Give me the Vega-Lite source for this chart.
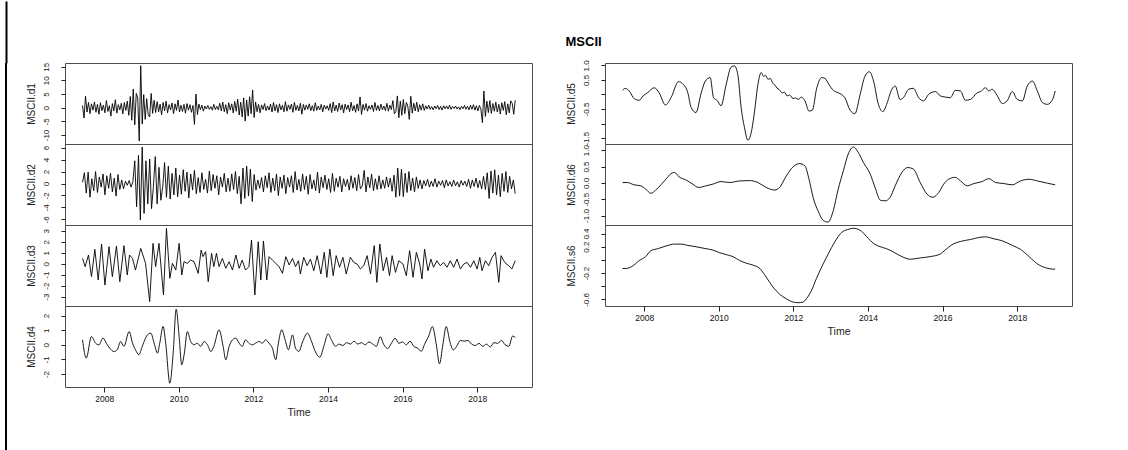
{
"$schema": "https://vega.github.io/schema/vega-lite/v6.json",
"padding": {"left": 3, "top": 0, "right": 5, "bottom": 0},
"background": "white",
"datasets": {
"d1": [{"t":2007.42,"v":0.8},{"t":2007.46,"v":-3.8},{"t":2007.50,"v":4.2},{"t":2007.54,"v":-1.6},{"t":2007.58,"v":1.9},{"t":2007.62,"v":-2.2},{"t":2007.66,"v":1.4},{"t":2007.70,"v":-0.9},{"t":2007.74,"v":2.1},{"t":2007.78,"v":-1.7},
{"t":2007.82,"v":1.2},{"t":2007.86,"v":-2.4},{"t":2007.90,"v":1.8},{"t":2007.94,"v":-1.1},{"t":2007.98,"v":0.9},{"t":2008.02,"v":-1.9},{"t":2008.06,"v":2.6},{"t":2008.10,"v":-1.4},{"t":2008.14,"v":0.7},{"t":2008.18,"v":-3.1},
{"t":2008.22,"v":1.5},{"t":2008.26,"v":-1.2},{"t":2008.30,"v":2.9},{"t":2008.34,"v":-2.0},{"t":2008.38,"v":1.1},{"t":2008.42,"v":-0.8},{"t":2008.46,"v":1.6},{"t":2008.50,"v":-2.3},{"t":2008.54,"v":1.9},{"t":2008.58,"v":-1.0},
{"t":2008.62,"v":2.4},{"t":2008.66,"v":-2.8},{"t":2008.70,"v":4.1},{"t":2008.74,"v":-4.6},{"t":2008.78,"v":6.8},{"t":2008.82,"v":-6.3},{"t":2008.86,"v":5.2},{"t":2008.90,"v":3.5},{"t":2008.94,"v":-12.2},{"t":2008.98,"v":15.4},
{"t":2009.02,"v":-6.0},{"t":2009.06,"v":4.8},{"t":2009.10,"v":-4.3},{"t":2009.14,"v":3.3},{"t":2009.18,"v":-2.6},{"t":2009.22,"v":-3.4},{"t":2009.26,"v":5.2},{"t":2009.30,"v":-2.1},{"t":2009.34,"v":2.7},{"t":2009.38,"v":-1.8},
{"t":2009.42,"v":2.2},{"t":2009.46,"v":-1.5},{"t":2009.50,"v":1.3},{"t":2009.54,"v":-2.6},{"t":2009.58,"v":1.9},{"t":2009.62,"v":-1.2},{"t":2009.66,"v":2.4},{"t":2009.70,"v":-1.9},{"t":2009.74,"v":1.1},{"t":2009.78,"v":-0.8},
{"t":2009.82,"v":1.7},{"t":2009.86,"v":-2.2},{"t":2009.90,"v":1.4},{"t":2009.94,"v":-1.0},{"t":2009.98,"v":2.8},{"t":2010.02,"v":-1.6},{"t":2010.06,"v":0.9},{"t":2010.10,"v":-1.4},{"t":2010.14,"v":1.2},{"t":2010.18,"v":-2.0},
{"t":2010.22,"v":1.5},{"t":2010.26,"v":-0.9},{"t":2010.30,"v":1.1},{"t":2010.34,"v":-1.7},{"t":2010.38,"v":0.8},{"t":2010.42,"v":-6.1},{"t":2010.46,"v":5.0},{"t":2010.50,"v":-2.5},{"t":2010.54,"v":1.3},{"t":2010.58,"v":-0.7},
{"t":2010.62,"v":0.9},{"t":2010.66,"v":-1.3},{"t":2010.70,"v":0.6},{"t":2010.74,"v":-0.5},{"t":2010.78,"v":0.8},{"t":2010.82,"v":-0.6},{"t":2010.86,"v":0.4},{"t":2010.90,"v":-0.9},{"t":2010.94,"v":1.2},{"t":2010.98,"v":-0.7},
{"t":2011.02,"v":0.5},{"t":2011.06,"v":-0.8},{"t":2011.10,"v":1.6},{"t":2011.14,"v":-1.2},{"t":2011.18,"v":2.0},{"t":2011.22,"v":-1.5},{"t":2011.26,"v":1.1},{"t":2011.30,"v":-2.2},{"t":2011.34,"v":1.8},{"t":2011.38,"v":-0.9},
{"t":2011.42,"v":1.4},{"t":2011.46,"v":-1.9},{"t":2011.50,"v":2.3},{"t":2011.54,"v":-1.3},{"t":2011.58,"v":3.1},{"t":2011.62,"v":-2.7},{"t":2011.66,"v":2.0},{"t":2011.70,"v":-3.4},{"t":2011.74,"v":3.6},{"t":2011.78,"v":-4.9},
{"t":2011.82,"v":2.8},{"t":2011.86,"v":-3.1},{"t":2011.90,"v":4.0},{"t":2011.94,"v":-2.2},{"t":2011.98,"v":6.5},{"t":2012.02,"v":-3.6},{"t":2012.06,"v":2.1},{"t":2012.10,"v":-1.5},{"t":2012.14,"v":1.2},{"t":2012.18,"v":-1.9},
{"t":2012.22,"v":1.0},{"t":2012.26,"v":-0.7},{"t":2012.30,"v":1.5},{"t":2012.34,"v":-1.1},{"t":2012.38,"v":0.6},{"t":2012.42,"v":-0.9},{"t":2012.46,"v":1.3},{"t":2012.50,"v":-1.6},{"t":2012.54,"v":1.9},{"t":2012.58,"v":-1.2},
{"t":2012.62,"v":1.1},{"t":2012.66,"v":-1.8},{"t":2012.70,"v":1.4},{"t":2012.74,"v":-0.8},{"t":2012.78,"v":0.9},{"t":2012.82,"v":-1.5},{"t":2012.86,"v":2.2},{"t":2012.90,"v":-1.3},{"t":2012.94,"v":1.0},{"t":2012.98,"v":-0.6},
{"t":2013.02,"v":1.3},{"t":2013.06,"v":-1.7},{"t":2013.10,"v":1.9},{"t":2013.14,"v":-1.0},{"t":2013.18,"v":0.8},{"t":2013.22,"v":-1.2},{"t":2013.26,"v":1.6},{"t":2013.30,"v":-2.4},{"t":2013.34,"v":1.2},{"t":2013.38,"v":-0.9},
{"t":2013.42,"v":1.0},{"t":2013.46,"v":-0.6},{"t":2013.50,"v":1.4},{"t":2013.54,"v":-1.1},{"t":2013.58,"v":0.7},{"t":2013.62,"v":-1.3},{"t":2013.66,"v":1.8},{"t":2013.70,"v":-1.0},{"t":2013.74,"v":0.6},{"t":2013.78,"v":-0.8},
{"t":2013.82,"v":1.2},{"t":2013.86,"v":-1.5},{"t":2013.90,"v":0.9},{"t":2013.94,"v":-0.5},{"t":2013.98,"v":0.7},{"t":2014.02,"v":-1.0},{"t":2014.06,"v":1.5},{"t":2014.10,"v":-1.8},{"t":2014.14,"v":2.1},{"t":2014.18,"v":-1.2},
{"t":2014.22,"v":0.9},{"t":2014.26,"v":-1.4},{"t":2014.30,"v":1.7},{"t":2014.34,"v":-0.8},{"t":2014.38,"v":1.1},{"t":2014.42,"v":-1.9},{"t":2014.46,"v":1.3},{"t":2014.50,"v":-0.7},{"t":2014.54,"v":1.0},{"t":2014.58,"v":-1.5},
{"t":2014.62,"v":2.0},{"t":2014.66,"v":-1.1},{"t":2014.70,"v":0.8},{"t":2014.74,"v":-1.7},{"t":2014.78,"v":1.4},{"t":2014.82,"v":-1.2},{"t":2014.86,"v":3.9},{"t":2014.90,"v":-2.5},{"t":2014.94,"v":1.2},{"t":2014.98,"v":-0.9},
{"t":2015.02,"v":1.5},{"t":2015.06,"v":-1.3},{"t":2015.10,"v":0.7},{"t":2015.14,"v":-0.6},{"t":2015.18,"v":1.0},{"t":2015.22,"v":-1.4},{"t":2015.26,"v":1.9},{"t":2015.30,"v":-1.0},{"t":2015.34,"v":0.8},{"t":2015.38,"v":-1.2},
{"t":2015.42,"v":1.3},{"t":2015.46,"v":-0.8},{"t":2015.50,"v":0.6},{"t":2015.54,"v":-1.1},{"t":2015.58,"v":1.6},{"t":2015.62,"v":-1.3},{"t":2015.66,"v":0.9},{"t":2015.70,"v":-0.7},{"t":2015.74,"v":2.6},{"t":2015.78,"v":-2.2},
{"t":2015.82,"v":-1.5},{"t":2015.86,"v":4.3},{"t":2015.90,"v":-3.7},{"t":2015.94,"v":2.4},{"t":2015.98,"v":-2.8},{"t":2016.02,"v":3.0},{"t":2016.06,"v":-2.2},{"t":2016.10,"v":1.9},{"t":2016.14,"v":0.6},{"t":2016.18,"v":-4.3},
{"t":2016.22,"v":4.2},{"t":2016.26,"v":-2.0},{"t":2016.30,"v":1.6},{"t":2016.34,"v":-1.2},{"t":2016.38,"v":2.0},{"t":2016.42,"v":-1.5},{"t":2016.46,"v":1.1},{"t":2016.50,"v":-0.9},{"t":2016.54,"v":1.4},{"t":2016.58,"v":-1.0},
{"t":2016.62,"v":0.7},{"t":2016.66,"v":-0.5},{"t":2016.70,"v":0.9},{"t":2016.74,"v":-0.6},{"t":2016.78,"v":0.4},{"t":2016.82,"v":-0.8},{"t":2016.86,"v":0.6},{"t":2016.90,"v":-0.4},{"t":2016.94,"v":0.8},{"t":2016.98,"v":-0.7},
{"t":2017.02,"v":0.5},{"t":2017.06,"v":-0.9},{"t":2017.10,"v":0.7},{"t":2017.14,"v":-0.4},{"t":2017.18,"v":0.6},{"t":2017.22,"v":-0.5},{"t":2017.26,"v":0.9},{"t":2017.30,"v":-0.6},{"t":2017.34,"v":0.4},{"t":2017.38,"v":-0.3},
{"t":2017.42,"v":0.6},{"t":2017.46,"v":-0.5},{"t":2017.50,"v":0.3},{"t":2017.54,"v":-0.7},{"t":2017.58,"v":0.5},{"t":2017.62,"v":-0.4},{"t":2017.66,"v":0.8},{"t":2017.70,"v":-0.6},{"t":2017.74,"v":0.5},{"t":2017.78,"v":-0.8},
{"t":2017.82,"v":0.9},{"t":2017.86,"v":-0.6},{"t":2017.90,"v":1.1},{"t":2017.94,"v":-0.9},{"t":2017.98,"v":0.7},{"t":2018.02,"v":-1.2},{"t":2018.06,"v":0.8},{"t":2018.10,"v":-0.5},{"t":2018.14,"v":-5.5},{"t":2018.18,"v":6.1},
{"t":2018.22,"v":-3.2},{"t":2018.26,"v":2.4},{"t":2018.30,"v":-1.8},{"t":2018.34,"v":2.6},{"t":2018.38,"v":-2.1},{"t":2018.42,"v":1.5},{"t":2018.46,"v":-1.3},{"t":2018.50,"v":2.0},{"t":2018.54,"v":-1.6},{"t":2018.58,"v":1.2},
{"t":2018.62,"v":-2.3},{"t":2018.66,"v":1.8},{"t":2018.70,"v":-1.0},{"t":2018.74,"v":2.2},{"t":2018.78,"v":-2.6},{"t":2018.82,"v":1.4},{"t":2018.86,"v":-1.9},{"t":2018.90,"v":2.5},{"t":2018.94,"v":1.6},{"t":2018.98,"v":-2.4},
{"t":2019.02,"v":2.7}],
"d2": [{"t":2007.42,"v":0.2},{"t":2007.47,"v":1.8},{"t":2007.52,"v":-1.6},{"t":2007.57,"v":1.9},{"t":2007.62,"v":-2.3},{"t":2007.67,"v":0.8},{"t":2007.72,"v":-1.2},{"t":2007.77,"v":2.0},{"t":2007.82,"v":-1.5},{"t":2007.87,"v":1.1},
{"t":2007.92,"v":-0.6},{"t":2007.97,"v":1.6},{"t":2008.02,"v":-1.9},{"t":2008.07,"v":1.3},{"t":2008.12,"v":-0.8},{"t":2008.17,"v":1.7},{"t":2008.22,"v":-1.4},{"t":2008.27,"v":0.9},{"t":2008.32,"v":-2.1},{"t":2008.37,"v":1.5},
{"t":2008.42,"v":-1.0},{"t":2008.47,"v":0.6},{"t":2008.52,"v":-0.9},{"t":2008.57,"v":0.4},{"t":2008.62,"v":-0.3},{"t":2008.67,"v":0.5},{"t":2008.72,"v":-0.6},{"t":2008.77,"v":0.3},{"t":2008.82,"v":3.8},{"t":2008.87,"v":-3.9},
{"t":2008.92,"v":4.7},{"t":2008.97,"v":-6.1},{"t":2009.02,"v":6.1},{"t":2009.07,"v":-5.0},{"t":2009.12,"v":3.8},{"t":2009.17,"v":-3.4},{"t":2009.22,"v":4.1},{"t":2009.27,"v":-4.2},{"t":2009.32,"v":-0.5},{"t":2009.37,"v":4.5},
{"t":2009.42,"v":-3.4},{"t":2009.47,"v":2.7},{"t":2009.52,"v":-2.8},{"t":2009.57,"v":-0.6},{"t":2009.62,"v":3.5},{"t":2009.67,"v":-2.3},{"t":2009.72,"v":2.9},{"t":2009.77,"v":-2.6},{"t":2009.82,"v":1.7},{"t":2009.87,"v":-1.9},
{"t":2009.92,"v":2.6},{"t":2009.97,"v":-2.2},{"t":2010.02,"v":1.4},{"t":2010.07,"v":-1.8},{"t":2010.12,"v":2.3},{"t":2010.17,"v":-1.3},{"t":2010.22,"v":1.9},{"t":2010.27,"v":-2.4},{"t":2010.32,"v":1.6},{"t":2010.37,"v":-1.1},
{"t":2010.42,"v":2.2},{"t":2010.47,"v":-1.7},{"t":2010.52,"v":1.0},{"t":2010.57,"v":-1.5},{"t":2010.62,"v":1.8},{"t":2010.67,"v":-1.0},{"t":2010.72,"v":0.7},{"t":2010.77,"v":-1.6},{"t":2010.82,"v":2.1},{"t":2010.87,"v":-1.2},
{"t":2010.92,"v":1.5},{"t":2010.97,"v":-0.8},{"t":2011.02,"v":1.3},{"t":2011.07,"v":-1.9},{"t":2011.12,"v":1.1},{"t":2011.17,"v":-0.6},{"t":2011.22,"v":1.7},{"t":2011.27,"v":-1.4},{"t":2011.32,"v":0.9},{"t":2011.37,"v":-1.3},
{"t":2011.42,"v":1.6},{"t":2011.47,"v":-1.0},{"t":2011.52,"v":2.0},{"t":2011.57,"v":-1.7},{"t":2011.62,"v":1.2},{"t":2011.67,"v":-3.4},{"t":2011.72,"v":2.6},{"t":2011.77,"v":-2.5},{"t":2011.82,"v":2.9},{"t":2011.87,"v":-2.1},
{"t":2011.92,"v":2.4},{"t":2011.97,"v":-3.0},{"t":2012.02,"v":1.5},{"t":2012.07,"v":-1.1},{"t":2012.12,"v":0.6},{"t":2012.17,"v":-0.8},{"t":2012.22,"v":1.0},{"t":2012.27,"v":-1.4},{"t":2012.32,"v":1.3},{"t":2012.37,"v":-0.7},
{"t":2012.42,"v":1.8},{"t":2012.47,"v":-1.5},{"t":2012.52,"v":0.9},{"t":2012.57,"v":-1.2},{"t":2012.62,"v":1.6},{"t":2012.67,"v":-2.0},{"t":2012.72,"v":1.1},{"t":2012.77,"v":-0.8},{"t":2012.82,"v":1.4},{"t":2012.87,"v":-1.7},
{"t":2012.92,"v":1.0},{"t":2012.97,"v":-0.6},{"t":2013.02,"v":1.3},{"t":2013.07,"v":-1.5},{"t":2013.12,"v":2.0},{"t":2013.17,"v":-1.1},{"t":2013.22,"v":0.7},{"t":2013.27,"v":-1.3},{"t":2013.32,"v":1.6},{"t":2013.37,"v":-1.0},
{"t":2013.42,"v":1.2},{"t":2013.47,"v":-1.8},{"t":2013.52,"v":1.5},{"t":2013.57,"v":-0.9},{"t":2013.62,"v":0.6},{"t":2013.67,"v":-1.2},{"t":2013.72,"v":1.9},{"t":2013.77,"v":-1.6},{"t":2013.82,"v":1.1},{"t":2013.87,"v":-0.7},
{"t":2013.92,"v":1.4},{"t":2013.97,"v":-1.0},{"t":2014.02,"v":0.8},{"t":2014.07,"v":-1.5},{"t":2014.12,"v":1.7},{"t":2014.17,"v":-1.3},{"t":2014.22,"v":0.9},{"t":2014.27,"v":-0.6},{"t":2014.32,"v":1.2},{"t":2014.37,"v":-1.4},
{"t":2014.42,"v":0.8},{"t":2014.47,"v":-0.5},{"t":2014.52,"v":0.7},{"t":2014.57,"v":-1.1},{"t":2014.62,"v":1.3},{"t":2014.67,"v":-0.8},{"t":2014.72,"v":1.0},{"t":2014.77,"v":-1.2},{"t":2014.82,"v":1.5},{"t":2014.87,"v":-0.9},
{"t":2014.92,"v":-0.4},{"t":2014.97,"v":2.2},{"t":2015.02,"v":-1.4},{"t":2015.07,"v":1.1},{"t":2015.12,"v":-0.7},{"t":2015.17,"v":1.6},{"t":2015.22,"v":-1.2},{"t":2015.27,"v":0.8},{"t":2015.32,"v":-1.0},{"t":2015.37,"v":1.3},
{"t":2015.42,"v":-0.9},{"t":2015.47,"v":0.6},{"t":2015.52,"v":-0.8},{"t":2015.57,"v":1.1},{"t":2015.62,"v":-0.6},{"t":2015.67,"v":0.9},{"t":2015.72,"v":-1.3},{"t":2015.77,"v":1.4},{"t":2015.82,"v":-2.3},{"t":2015.87,"v":2.6},
{"t":2015.92,"v":-2.1},{"t":2015.97,"v":2.4},{"t":2016.02,"v":-2.2},{"t":2016.07,"v":1.7},{"t":2016.12,"v":-1.5},{"t":2016.17,"v":2.0},{"t":2016.22,"v":-1.2},{"t":2016.27,"v":0.9},{"t":2016.32,"v":-1.4},{"t":2016.37,"v":1.1},
{"t":2016.42,"v":-0.8},{"t":2016.47,"v":0.6},{"t":2016.52,"v":-0.9},{"t":2016.57,"v":0.5},{"t":2016.62,"v":-0.4},{"t":2016.67,"v":0.7},{"t":2016.72,"v":-0.6},{"t":2016.77,"v":0.4},{"t":2016.82,"v":-0.5},{"t":2016.87,"v":0.8},
{"t":2016.92,"v":-0.6},{"t":2016.97,"v":0.4},{"t":2017.02,"v":-0.3},{"t":2017.07,"v":0.5},{"t":2017.12,"v":-0.7},{"t":2017.17,"v":0.6},{"t":2017.22,"v":-0.4},{"t":2017.27,"v":0.3},{"t":2017.32,"v":-0.5},{"t":2017.37,"v":0.6},
{"t":2017.42,"v":-0.4},{"t":2017.47,"v":0.3},{"t":2017.52,"v":-0.6},{"t":2017.57,"v":0.5},{"t":2017.62,"v":-0.3},{"t":2017.67,"v":0.4},{"t":2017.72,"v":-0.5},{"t":2017.77,"v":0.7},{"t":2017.82,"v":-0.8},{"t":2017.87,"v":0.6},
{"t":2017.92,"v":-0.5},{"t":2017.97,"v":0.9},{"t":2018.02,"v":-0.7},{"t":2018.07,"v":0.5},{"t":2018.12,"v":-0.9},{"t":2018.17,"v":1.2},{"t":2018.22,"v":-1.0},{"t":2018.27,"v":1.8},{"t":2018.32,"v":-2.5},{"t":2018.37,"v":2.1},
{"t":2018.42,"v":-1.6},{"t":2018.47,"v":2.3},{"t":2018.52,"v":-1.9},{"t":2018.57,"v":1.4},{"t":2018.62,"v":-2.2},{"t":2018.67,"v":1.7},{"t":2018.72,"v":-1.3},{"t":2018.77,"v":2.0},{"t":2018.82,"v":-1.5},{"t":2018.87,"v":1.2},
{"t":2018.92,"v":-0.9},{"t":2018.97,"v":0.6},{"t":2019.02,"v":-1.7}],
"d3": [{"t":2007.42,"v":0.48},{"t":2007.49,"v":-0.27},{"t":2007.58,"v":0.79},{"t":2007.66,"v":-1.18},{"t":2007.75,"v":1.30},{"t":2007.84,"v":-1.48},{"t":2007.93,"v":1.79},{"t":2008.02,"v":-1.94},{"t":2008.13,"v":1.55},{"t":2008.22,"v":-1.18},
{"t":2008.33,"v":1.61},{"t":2008.42,"v":-1.64},{"t":2008.53,"v":1.64},{"t":2008.62,"v":-1.03},{"t":2008.68,"v":0.79},{"t":2008.76,"v":0.48},{"t":2008.84,"v":-0.58},{"t":2008.98,"v":1.39},{"t":2009.11,"v":0.03},{"t":2009.22,"v":-3.45},
{"t":2009.31,"v":1.85},{"t":2009.38,"v":-0.27},{"t":2009.47,"v":1.85},{"t":2009.59,"v":-2.85},{"t":2009.67,"v":3.21},{"t":2009.76,"v":-1.33},{"t":2009.83,"v":0.03},{"t":2009.92,"v":-0.58},{"t":2010.01,"v":1.85},{"t":2010.08,"v":-1.03},
{"t":2010.14,"v":0.18},{"t":2010.23,"v":0.03},{"t":2010.32,"v":0.33},{"t":2010.41,"v":0.18},{"t":2010.52,"v":-0.88},{"t":2010.60,"v":1.24},{"t":2010.65,"v":0.64},{"t":2010.72,"v":1.09},{"t":2010.79,"v":-1.64},{"t":2010.88,"v":0.94},
{"t":2010.94,"v":-0.27},{"t":2011.01,"v":0.94},{"t":2011.08,"v":-0.27},{"t":2011.17,"v":0.48},{"t":2011.26,"v":-0.42},{"t":2011.35,"v":0.18},{"t":2011.44,"v":-0.58},{"t":2011.53,"v":0.79},{"t":2011.62,"v":-0.42},{"t":2011.70,"v":0.33},
{"t":2011.79,"v":-0.58},{"t":2011.88,"v":-0.27},{"t":2011.95,"v":2.15},{"t":2012.04,"v":-2.85},{"t":2012.13,"v":2.00},{"t":2012.20,"v":-1.48},{"t":2012.27,"v":2.06},{"t":2012.36,"v":-1.48},{"t":2012.42,"v":0.64},{"t":2012.51,"v":0.33},
{"t":2012.60,"v":0.03},{"t":2012.69,"v":-0.27},{"t":2012.78,"v":-0.88},{"t":2012.87,"v":0.64},{"t":2012.96,"v":-0.12},{"t":2013.05,"v":0.48},{"t":2013.13,"v":-0.27},{"t":2013.21,"v":0.27},{"t":2013.26,"v":-0.94},{"t":2013.35,"v":0.58},
{"t":2013.44,"v":-0.18},{"t":2013.53,"v":0.42},{"t":2013.62,"v":-0.64},{"t":2013.71,"v":0.73},{"t":2013.81,"v":-0.94},{"t":2013.90,"v":1.03},{"t":2013.97,"v":-1.24},{"t":2014.05,"v":1.33},{"t":2014.14,"v":-1.09},{"t":2014.22,"v":0.73},
{"t":2014.31,"v":-0.33},{"t":2014.40,"v":0.58},{"t":2014.49,"v":-0.94},{"t":2014.60,"v":0.58},{"t":2014.69,"v":0.12},{"t":2014.78,"v":-0.03},{"t":2014.87,"v":-0.48},{"t":2014.96,"v":-0.18},{"t":2015.05,"v":0.73},{"t":2015.14,"v":-0.94},
{"t":2015.24,"v":1.64},{"t":2015.31,"v":-1.70},{"t":2015.39,"v":1.79},{"t":2015.48,"v":-0.64},{"t":2015.57,"v":0.58},{"t":2015.65,"v":-1.09},{"t":2015.72,"v":0.73},{"t":2015.81,"v":-0.79},{"t":2015.90,"v":0.27},{"t":2016.01,"v":-0.03},
{"t":2016.10,"v":-1.09},{"t":2016.19,"v":1.18},{"t":2016.28,"v":-1.24},{"t":2016.37,"v":1.03},{"t":2016.46,"v":-0.03},{"t":2016.52,"v":-1.39},{"t":2016.59,"v":1.33},{"t":2016.68,"v":-0.64},{"t":2016.76,"v":0.42},{"t":2016.83,"v":-0.33},
{"t":2016.92,"v":0.27},{"t":2017.01,"v":-0.18},{"t":2017.10,"v":0.12},{"t":2017.19,"v":-0.33},{"t":2017.28,"v":0.27},{"t":2017.37,"v":-0.33},{"t":2017.46,"v":0.42},{"t":2017.55,"v":-0.48},{"t":2017.64,"v":-0.03},{"t":2017.73,"v":0.12},
{"t":2017.82,"v":-0.33},{"t":2017.91,"v":0.27},{"t":2018.00,"v":-0.48},{"t":2018.07,"v":0.58},{"t":2018.13,"v":-0.64},{"t":2018.22,"v":0.27},{"t":2018.31,"v":-0.18},{"t":2018.40,"v":0.58},{"t":2018.49,"v":1.03},{"t":2018.58,"v":-1.70},
{"t":2018.64,"v":0.73},{"t":2018.71,"v":0.27},{"t":2018.78,"v":-0.03},{"t":2018.85,"v":-0.18},{"t":2018.93,"v":-0.48},{"t":2019.02,"v":0.27}],
"d4": [{"t":2007.42,"v":0.34},{"t":2007.52,"v":-0.91},{"t":2007.66,"v":0.57},{"t":2007.77,"v":0.11},{"t":2007.86,"v":0.0},{"t":2007.97,"v":0.46},{"t":2008.06,"v":0.11},{"t":2008.15,"v":-0.23},{"t":2008.26,"v":-0.46},{"t":2008.35,"v":-0.34},
{"t":2008.44,"v":0.23},{"t":2008.53,"v":-0.11},{"t":2008.67,"v":0.91},{"t":2008.76,"v":0.11},{"t":2008.84,"v":-0.34},{"t":2008.93,"v":-0.68},{"t":2009.02,"v":-0.11},{"t":2009.16,"v":0.68},{"t":2009.25,"v":0.80},{"t":2009.34,"v":0.11},
{"t":2009.43,"v":-0.57},{"t":2009.49,"v":0.11},{"t":2009.58,"v":1.26},{"t":2009.65,"v":0.11},{"t":2009.76,"v":-2.63},{"t":2009.85,"v":-0.57},{"t":2009.93,"v":2.44},{"t":2010.01,"v":0.57},{"t":2010.08,"v":-1.37},{"t":2010.15,"v":-0.57},
{"t":2010.23,"v":0.91},{"t":2010.32,"v":0.23},{"t":2010.41,"v":0.0},{"t":2010.50,"v":0.11},{"t":2010.59,"v":-0.11},{"t":2010.68,"v":0.23},{"t":2010.77,"v":0.0},{"t":2010.86,"v":-0.46},{"t":2010.94,"v":-0.11},{"t":2011.08,"v":1.03},
{"t":2011.19,"v":-0.11},{"t":2011.26,"v":-1.03},{"t":2011.35,"v":-0.11},{"t":2011.44,"v":0.34},{"t":2011.53,"v":0.46},{"t":2011.62,"v":0.11},{"t":2011.70,"v":-0.11},{"t":2011.79,"v":0.34},{"t":2011.88,"v":0.11},{"t":2011.97,"v":0.0},
{"t":2012.06,"v":0.11},{"t":2012.15,"v":0.23},{"t":2012.24,"v":0.11},{"t":2012.33,"v":0.34},{"t":2012.42,"v":0.11},{"t":2012.51,"v":-0.23},{"t":2012.60,"v":-1.03},{"t":2012.67,"v":0.11},{"t":2012.76,"v":1.03},{"t":2012.85,"v":0.34},
{"t":2012.94,"v":-0.34},{"t":2013.05,"v":0.68},{"t":2013.13,"v":-0.23},{"t":2013.22,"v":-0.45},{"t":2013.32,"v":0.2},{"t":2013.45,"v":0.8},{"t":2013.55,"v":0.3},{"t":2013.65,"v":-0.4},{"t":2013.78,"v":-0.85},{"t":2013.90,"v":0.0},
{"t":2014.00,"v":0.75},{"t":2014.10,"v":0.3},{"t":2014.20,"v":-0.1},{"t":2014.30,"v":0.05},{"t":2014.40,"v":-0.05},{"t":2014.50,"v":0.15},{"t":2014.60,"v":0.05},{"t":2014.70,"v":0.25},{"t":2014.80,"v":0.05},{"t":2014.90,"v":0.15},
{"t":2015.00,"v":0.0},{"t":2015.10,"v":0.2},{"t":2015.20,"v":0.05},{"t":2015.30,"v":-0.1},{"t":2015.40,"v":0.55},{"t":2015.50,"v":0.0},{"t":2015.60,"v":-0.25},{"t":2015.70,"v":0.1},{"t":2015.80,"v":0.45},{"t":2015.90,"v":0.1},
{"t":2016.00,"v":0.2},{"t":2016.10,"v":0.0},{"t":2016.20,"v":0.25},{"t":2016.30,"v":-0.1},{"t":2016.42,"v":-0.25},{"t":2016.50,"v":-0.45},{"t":2016.60,"v":0.1},{"t":2016.70,"v":0.6},{"t":2016.80,"v":1.25},{"t":2016.90,"v":0.1},
{"t":2016.99,"v":-1.3},{"t":2017.08,"v":0.0},{"t":2017.17,"v":1.25},{"t":2017.27,"v":0.2},{"t":2017.36,"v":-0.35},{"t":2017.45,"v":-0.1},{"t":2017.55,"v":0.3},{"t":2017.65,"v":0.25},{"t":2017.75,"v":0.3},{"t":2017.85,"v":0.05},
{"t":2017.95,"v":-0.05},{"t":2018.05,"v":0.1},{"t":2018.15,"v":-0.1},{"t":2018.25,"v":0.05},{"t":2018.35,"v":-0.15},{"t":2018.45,"v":0.15},{"t":2018.55,"v":0.1},{"t":2018.65,"v":0.3},{"t":2018.75,"v":0.0},{"t":2018.85,"v":-0.1},
{"t":2018.95,"v":0.6},{"t":2019.02,"v":0.5}],
"d5": [{"t":2007.42,"v":0.14},{"t":2007.49,"v":0.21},{"t":2007.60,"v":0.12},{"t":2007.73,"v":-0.14},{"t":2007.87,"v":-0.20},{"t":2007.97,"v":-0.05},{"t":2008.09,"v":0.06},{"t":2008.27,"v":0.23},{"t":2008.40,"v":0.06},{"t":2008.57,"v":-0.36},
{"t":2008.72,"v":-0.11},{"t":2008.92,"v":0.44},{"t":2009.03,"v":0.37},{"t":2009.17,"v":0.06},{"t":2009.26,"v":-0.45},{"t":2009.39,"v":-0.62},{"t":2009.53,"v":0.06},{"t":2009.64,"v":0.46},{"t":2009.77,"v":0.58},{"t":2009.86,"v":-0.11},
{"t":2009.97,"v":-0.22},{"t":2010.06,"v":-0.39},{"t":2010.20,"v":0.35},{"t":2010.33,"v":0.94},{"t":2010.42,"v":0.98},{"t":2010.51,"v":0.69},{"t":2010.60,"v":-0.45},{"t":2010.69,"v":-1.14},{"t":2010.78,"v":-1.57},{"t":2010.87,"v":-1.31},
{"t":2010.96,"v":-0.57},{"t":2011.05,"v":0.35},{"t":2011.14,"v":0.75},{"t":2011.20,"v":0.62},{"t":2011.25,"v":0.66},{"t":2011.32,"v":0.52},{"t":2011.38,"v":0.55},{"t":2011.45,"v":0.38},{"t":2011.50,"v":0.33},{"t":2011.56,"v":0.22},
{"t":2011.62,"v":0.17},{"t":2011.70,"v":0.05},{"t":2011.76,"v":0.08},{"t":2011.83,"v":-0.05},{"t":2011.90,"v":-0.02},{"t":2011.99,"v":-0.14},{"t":2012.06,"v":-0.12},{"t":2012.13,"v":-0.17},{"t":2012.22,"v":-0.09},{"t":2012.31,"v":-0.22},
{"t":2012.42,"v":-0.57},{"t":2012.51,"v":-0.54},{"t":2012.62,"v":0.18},{"t":2012.76,"v":0.58},{"t":2012.85,"v":0.55},{"t":2012.95,"v":0.35},{"t":2013.07,"v":0.14},{"t":2013.20,"v":0.06},{"t":2013.38,"v":-0.11},{"t":2013.52,"v":-0.54},
{"t":2013.65,"v":-0.66},{"t":2013.79,"v":0.0},{"t":2013.92,"v":0.63},{"t":2014.04,"v":0.78},{"t":2014.15,"v":0.46},{"t":2014.28,"v":-0.34},{"t":2014.40,"v":-0.59},{"t":2014.50,"v":-0.34},{"t":2014.64,"v":0.18},{"t":2014.73,"v":0.29},
{"t":2014.86,"v":-0.17},{"t":2014.95,"v":-0.11},{"t":2015.09,"v":0.18},{"t":2015.22,"v":0.21},{"t":2015.36,"v":-0.11},{"t":2015.49,"v":-0.22},{"t":2015.63,"v":0.01},{"t":2015.81,"v":0.10},{"t":2015.94,"v":-0.05},{"t":2016.08,"v":-0.09},
{"t":2016.21,"v":-0.11},{"t":2016.34,"v":0.14},{"t":2016.48,"v":0.12},{"t":2016.61,"v":-0.20},{"t":2016.75,"v":-0.17},{"t":2016.93,"v":0.06},{"t":2017.02,"v":0.10},{"t":2017.15,"v":0.23},{"t":2017.24,"v":0.12},{"t":2017.33,"v":0.18},
{"t":2017.47,"v":-0.05},{"t":2017.60,"v":-0.31},{"t":2017.73,"v":-0.22},{"t":2017.87,"v":0.10},{"t":2018.00,"v":-0.17},{"t":2018.14,"v":-0.22},{"t":2018.27,"v":0.29},{"t":2018.41,"v":0.46},{"t":2018.54,"v":0.12},{"t":2018.68,"v":-0.28},
{"t":2018.81,"v":-0.34},{"t":2018.95,"v":-0.17},{"t":2019.02,"v":0.12}],
"d6": [{"t":2007.42,"v":0.01},{"t":2007.55,"v":0.01},{"t":2007.73,"v":-0.06},{"t":2007.91,"v":-0.09},{"t":2008.04,"v":-0.19},{"t":2008.18,"v":-0.32},{"t":2008.31,"v":-0.22},{"t":2008.45,"v":-0.06},{"t":2008.58,"v":0.11},{"t":2008.72,"v":0.28},
{"t":2008.81,"v":0.32},{"t":2008.94,"v":0.18},{"t":2009.12,"v":0.09},{"t":2009.30,"v":-0.04},{"t":2009.46,"v":-0.14},{"t":2009.66,"v":-0.09},{"t":2009.84,"v":-0.04},{"t":2010.06,"v":0.04},{"t":2010.29,"v":0.01},{"t":2010.56,"v":0.06},
{"t":2010.83,"v":0.07},{"t":2011.05,"v":0.01},{"t":2011.27,"v":-0.14},{"t":2011.50,"v":-0.22},{"t":2011.63,"v":-0.14},{"t":2011.81,"v":0.21},{"t":2011.99,"v":0.49},{"t":2012.17,"v":0.59},{"t":2012.31,"v":0.52},{"t":2012.42,"v":0.11},
{"t":2012.53,"v":-0.45},{"t":2012.67,"v":-0.88},{"t":2012.80,"v":-1.15},{"t":2012.93,"v":-1.20},{"t":2013.07,"v":-0.85},{"t":2013.20,"v":-0.20},{"t":2013.34,"v":0.37},{"t":2013.47,"v":0.88},{"t":2013.61,"v":1.10},{"t":2013.74,"v":0.93},
{"t":2013.88,"v":0.62},{"t":2014.06,"v":0.27},{"t":2014.19,"v":-0.14},{"t":2014.33,"v":-0.53},{"t":2014.46,"v":-0.55},{"t":2014.59,"v":-0.45},{"t":2014.73,"v":-0.09},{"t":2014.91,"v":0.32},{"t":2015.06,"v":0.47},{"t":2015.22,"v":0.42},
{"t":2015.40,"v":0.01},{"t":2015.58,"v":-0.34},{"t":2015.74,"v":-0.44},{"t":2015.90,"v":-0.29},{"t":2016.03,"v":-0.04},{"t":2016.16,"v":0.11},{"t":2016.34,"v":0.17},{"t":2016.48,"v":0.06},{"t":2016.66,"v":-0.09},{"t":2016.84,"v":-0.02},
{"t":2017.06,"v":0.04},{"t":2017.24,"v":0.13},{"t":2017.42,"v":0.01},{"t":2017.64,"v":-0.02},{"t":2017.87,"v":-0.06},{"t":2018.09,"v":0.06},{"t":2018.32,"v":0.11},{"t":2018.54,"v":0.06},{"t":2018.81,"v":-0.01},{"t":2019.02,"v":-0.06}],
"s6": [{"t":2007.42,"v":-0.13},{"t":2007.52,"v":-0.13},{"t":2007.67,"v":-0.10},{"t":2007.87,"v":-0.01},{"t":2008.04,"v":0.05},{"t":2008.18,"v":0.14},{"t":2008.36,"v":0.17},{"t":2008.58,"v":0.21},{"t":2008.81,"v":0.24},{"t":2008.99,"v":0.24},
{"t":2009.17,"v":0.22},{"t":2009.39,"v":0.20},{"t":2009.66,"v":0.17},{"t":2009.84,"v":0.15},{"t":2010.02,"v":0.11},{"t":2010.20,"v":0.08},{"t":2010.38,"v":0.05},{"t":2010.56,"v":-0.01},{"t":2010.74,"v":-0.05},{"t":2010.92,"v":-0.08},
{"t":2011.10,"v":-0.13},{"t":2011.27,"v":-0.26},{"t":2011.45,"v":-0.41},{"t":2011.63,"v":-0.52},{"t":2011.81,"v":-0.59},{"t":2011.99,"v":-0.64},{"t":2012.13,"v":-0.65},{"t":2012.26,"v":-0.64},{"t":2012.35,"v":-0.59},{"t":2012.49,"v":-0.46},
{"t":2012.62,"v":-0.28},{"t":2012.80,"v":-0.06},{"t":2012.98,"v":0.14},{"t":2013.16,"v":0.32},{"t":2013.30,"v":0.42},{"t":2013.45,"v":0.46},{"t":2013.61,"v":0.48},{"t":2013.79,"v":0.45},{"t":2013.97,"v":0.35},{"t":2014.15,"v":0.25},
{"t":2014.28,"v":0.21},{"t":2014.50,"v":0.17},{"t":2014.68,"v":0.12},{"t":2014.91,"v":0.05},{"t":2015.13,"v":0.01},{"t":2015.40,"v":0.03},{"t":2015.67,"v":0.05},{"t":2015.94,"v":0.09},{"t":2016.07,"v":0.15},{"t":2016.25,"v":0.23},
{"t":2016.48,"v":0.28},{"t":2016.75,"v":0.31},{"t":2016.97,"v":0.34},{"t":2017.15,"v":0.35},{"t":2017.38,"v":0.32},{"t":2017.60,"v":0.29},{"t":2017.87,"v":0.22},{"t":2018.09,"v":0.16},{"t":2018.32,"v":0.05},{"t":2018.54,"v":-0.06},
{"t":2018.77,"v":-0.12},{"t":2018.95,"v":-0.14},{"t":2019.02,"v":-0.14}]
},
"spacing": 16,
"align": "none",
"hconcat": [
{"width": 2, "height": 388, "data": {"values": [{}]}, "mark": {"type": "point", "opacity": 0},
 "encoding": {"x": {"datum": 0.5, "type": "quantitative", "scale": {"domain": [0, 1], "nice": false, "zero": false}, "axis": {"orient": "top", "values": [0.5], "tickSize": 62, "tickWidth": 2, "tickColor": "#000000", "labels": false, "domain": false, "title": null, "grid": false}}},
 "view": {"fill": "#000000", "stroke": null}},
{"spacing": 32, "hconcat": [
 {"title": {"text": " ", "offset": 47}, "spacing": 0, "bounds": "flush", "vconcat": [
  {"width": 467, "height": 81, "data": {"name": "d1"}, "mark": {"type": "line"},
   "encoding": {"x": {"field": "t", "type": "quantitative", "scale": {"domain": [2006.95, 2019.47], "nice": false, "zero": false}, "axis": null},
    "y": {"field": "v", "type": "quantitative", "scale": {"domain": [-13.3, 16.35], "nice": false, "zero": false}, "axis": {"title": "MSCII.d1", "values": [-10, -5, 0, 5, 10, 15], "format": "d", "labelExpr": "replace(datum.label, '\u2212', '-')"}}}},
  {"width": 467, "height": 81, "data": {"name": "d2"}, "mark": {"type": "line"},
   "encoding": {"x": {"field": "t", "type": "quantitative", "scale": {"domain": [2006.95, 2019.47], "nice": false, "zero": false}, "axis": null},
    "y": {"field": "v", "type": "quantitative", "scale": {"domain": [-6.94, 6.61], "nice": false, "zero": false}, "axis": {"title": "MSCII.d2", "values": [-6, -4, -2, 0, 2, 4, 6], "format": "d", "labelExpr": "replace(datum.label, '\u2212', '-')"}}}},
  {"width": 467, "height": 81, "data": {"name": "d3"}, "mark": {"type": "line"},
   "encoding": {"x": {"field": "t", "type": "quantitative", "scale": {"domain": [2006.95, 2019.47], "nice": false, "zero": false}, "axis": null},
    "y": {"field": "v", "type": "quantitative", "scale": {"domain": [-3.85, 3.52], "nice": false, "zero": false}, "axis": {"title": "MSCII.d3", "values": [-3, -2, -1, 0, 1, 2, 3], "format": "d", "labelExpr": "replace(datum.label, '\u2212', '-')"}}}},
  {"width": 467, "height": 81, "data": {"name": "d4"}, "mark": {"type": "line", "interpolate": "monotone"},
   "encoding": {"x": {"field": "t", "type": "quantitative", "scale": {"domain": [2006.95, 2019.47], "nice": false, "zero": false}, "axis": {"title": "Time", "values": [2008, 2010, 2012, 2014, 2016, 2018], "format": "d"}},
    "y": {"field": "v", "type": "quantitative", "scale": {"domain": [-2.89, 2.66], "nice": false, "zero": false}, "axis": {"title": "MSCII.d4", "values": [-2, -1, 0, 1, 2], "format": "d", "labelExpr": "replace(datum.label, '\u2212', '-')"}}}}
 ]},
 {"title": {"text": "MSCII", "offset": 10}, "spacing": 0, "bounds": "flush", "vconcat": [
  {"width": 467, "height": 81, "data": {"name": "d5"}, "mark": {"type": "line", "interpolate": "monotone"},
   "encoding": {"x": {"field": "t", "type": "quantitative", "scale": {"domain": [2006.95, 2019.47], "nice": false, "zero": false}, "axis": null},
    "y": {"field": "v", "type": "quantitative", "scale": {"domain": [-1.70, 1.08], "nice": false, "zero": false}, "axis": {"title": "MSCII.d5", "values": [-1.5, -1, -0.5, 0, 0.5, 1], "format": ".1f", "labelExpr": "datum.value === 0 || datum.value === -1 ? '' : replace(datum.label, '\u2212', '-')"}}}},
  {"width": 467, "height": 81, "data": {"name": "d6"}, "mark": {"type": "line", "interpolate": "monotone"},
   "encoding": {"x": {"field": "t", "type": "quantitative", "scale": {"domain": [2006.95, 2019.47], "nice": false, "zero": false}, "axis": null},
    "y": {"field": "v", "type": "quantitative", "scale": {"domain": [-1.29, 1.19], "nice": false, "zero": false}, "axis": {"title": "MSCII.d6", "values": [-1, -0.5, 0, 0.5, 1], "format": ".1f", "labelExpr": "replace(datum.label, '\u2212', '-')"}}}},
  {"width": 467, "height": 81, "data": {"name": "s6"}, "mark": {"type": "line", "interpolate": "monotone"},
   "encoding": {"x": {"field": "t", "type": "quantitative", "scale": {"domain": [2006.95, 2019.47], "nice": false, "zero": false}, "axis": {"title": "Time", "values": [2008, 2010, 2012, 2014, 2016, 2018], "format": "d"}},
    "y": {"field": "v", "type": "quantitative", "scale": {"domain": [-0.70, 0.53], "nice": false, "zero": false}, "axis": {"title": "MSCII.s6", "values": [-0.6, -0.4, -0.2, 0, 0.2, 0.4], "format": ".1f", "labelExpr": "datum.value === 0 || datum.value === -0.4 ? '' : replace(datum.label, '\u2212', '-')"}}}}
 ]}
]}
],
"config": {
 "font": "Liberation Sans",
 "view": {"stroke": "#4d4d4d", "strokeWidth": 1},
 "line": {"color": "#000000", "strokeWidth": 0.9},
 "axis": {"grid": false, "domain": false, "tickColor": "#222222", "tickSize": 4, "labelFont": "Liberation Sans", "titleFont": "Liberation Sans", "labelFontSize": 8, "labelColor": "#111111", "titleFontSize": 10, "titleFontWeight": "normal", "titleColor": "#222222", "labelOverlap": false, "labelBound": false, "labelFlush": false},
 "axisY": {"labelAngle": -90, "labelAlign": "center", "labelBaseline": "alphabetic", "labelPadding": 13, "titlePadding": 6},
 "axisX": {"labelPadding": 2, "titlePadding": 5, "tickSize": 5, "labelFontSize": 8.5, "titleFontSize": 10.5},
 "title": {"font": "Liberation Sans", "fontSize": 13, "fontWeight": "bold", "color": "#000000", "anchor": "start"}
}
}
